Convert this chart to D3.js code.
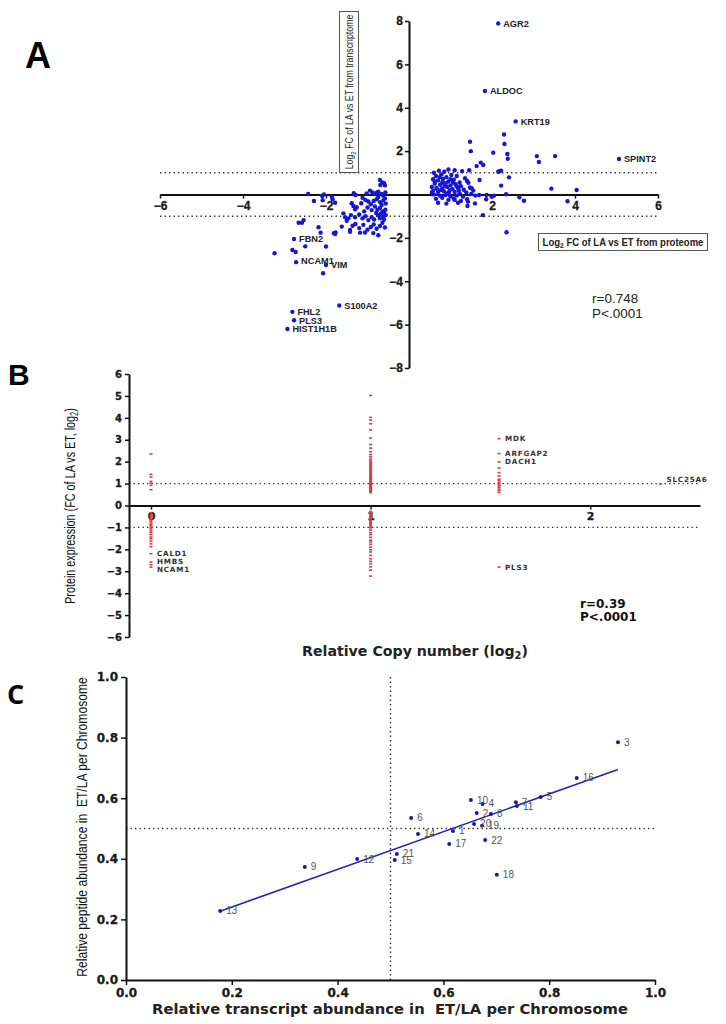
<!DOCTYPE html>
<html>
<head>
<meta charset="utf-8">
<script src="https://cdn.jsdelivr.net/npm/d3@7"></script>
<style>
  body { margin: 0; background: #fff; }
  svg { display: block; }
</style>
</head>
<body>
<div id="chart"></div>
<script>
// ---- panel A : log2 FC proteome (x) vs transcriptome (y) ----
var aPoints = [
  [-0.70,0.67],[-0.64,0.56],[-0.60,0.52],[-0.58,0.42],[-0.69,0.44],
  [-0.94,0.18],[-0.88,0.09],[-1.02,0.05],[-0.84,0.02],[-0.74,0.13],[-0.66,0.03],[-0.62,-0.06],
  [-1.33,0.06],[-1.29,-0.02],[-0.78,0.08],[-0.57,0.10],
  [-1.12,-0.15],[-1.05,-0.25],[-0.98,-0.32],[-1.15,-0.40],[-0.92,-0.45],[-0.85,-0.30],[-0.78,-0.22],
  [-0.70,-0.35],[-0.62,-0.28],[-0.58,-0.18],[-0.66,-0.48],[-0.56,-0.42],[-0.74,-0.12],
  [-1.38,-0.40],[-1.34,-0.53],[-1.30,-0.68],[-1.26,-0.59],
  [-0.82,-0.55],[-0.76,-0.70],[-0.70,-0.62],[-0.64,-0.78],[-0.68,-0.90],[-0.60,-0.85],[-0.57,-0.70],
  [-0.74,-0.96],[-0.62,-1.00],[-0.79,-0.85],[-0.56,-0.95],[-0.90,-0.72],[-1.00,-0.60],[-1.08,-0.78],
  [-1.58,-0.87],[-1.54,-1.05],[-1.50,-1.21],[-1.46,-1.10],[-1.40,-0.95],[-1.30,-1.05],[-1.20,-0.92],
  [-1.12,-1.10],[-1.05,-1.00],[-0.98,-1.18],[-0.90,-1.05],[-0.84,-1.15],[-0.70,-1.10],[-0.60,-1.15],
  [-1.62,-1.48],[-1.42,-1.64],[-1.36,-1.44],[-1.29,-1.36],[-1.20,-1.55],[-1.10,-1.40],[-1.00,-1.62],
  [-0.92,-1.50],[-0.85,-1.38],[-0.78,-1.58],[-0.70,-1.45],[-0.64,-1.30],[-0.58,-1.52],
  [-1.81,-1.79],[-1.77,-1.75],[-1.42,-1.72],[-1.18,-1.76],[-1.06,-1.75],[-0.86,-1.78],[-0.74,-1.88],
  [-2.43,0.02],[-2.29,-0.30],[-2.09,-0.07],[-2.05,0.00],[-2.08,-0.26],[-1.86,-0.10],[-1.84,-0.22],
  [-1.78,-0.38],[-2.54,-1.18],[-2.58,-1.30],[-2.66,-1.30],[-2.18,-1.51],[-2.13,-1.76],[-1.78,-1.82],
  [-2.50,-2.39],[-2.00,-2.40],[-3.24,-2.71],[-2.81,-2.56],[-2.73,-2.65],[-2.07,-3.63],
  // right cluster
  [0.60,1.00],[0.72,1.10],[0.85,1.05],[0.95,1.15],[1.10,1.12],[1.28,1.08],[1.45,1.12],[0.65,0.85],
  [0.78,0.92],[0.90,0.80],[1.02,0.90],[1.15,0.85],[1.35,0.75],[0.58,0.70],[0.70,0.65],[0.82,0.72],
  [0.95,0.60],[1.08,0.68],[1.22,0.55],[1.40,0.62],[0.62,0.50],[0.75,0.45],[0.88,0.52],[1.00,0.42],
  [1.12,0.48],[1.25,0.38],[0.55,0.35],[0.66,0.30],[0.80,0.28],[0.92,0.35],[1.05,0.25],[1.18,0.30],
  [1.32,0.22],[0.58,0.18],[0.70,0.12],[0.84,0.15],[0.96,0.08],[1.10,0.12],[1.22,0.05],[1.38,0.10],
  [1.50,0.02],[0.60,0.00],[0.74,-0.05],[0.88,-0.02],[1.00,-0.08],[1.15,-0.05],[1.30,-0.10],[0.65,-0.20],
  [0.80,-0.15],[0.95,-0.25],[1.08,-0.18],[1.25,-0.30],[1.40,-0.22],[0.70,-0.38],[0.90,-0.42],[1.10,-0.25],
  [1.18,-0.38],[1.42,-0.33],[1.59,-0.41],[0.62,0.60],[0.76,0.20],[0.86,0.40],[0.98,0.20],[1.06,0.55],
  [1.20,0.18],[0.68,0.25],[0.55,0.08],[1.00,0.70],[0.80,0.55],[0.92,0.05],[1.15,0.38],[0.74,0.80],
  [1.48,0.30],[1.51,0.29],[1.60,-0.05],[1.99,-0.10],[2.15,1.05],
  [1.47,2.43],[1.49,2.00],[1.63,1.31],[1.73,1.47],[1.79,1.36],[2.03,1.93],[2.29,2.77],[2.30,2.33],
  [2.37,1.87],[2.38,1.65],[3.08,1.77],[3.13,1.50],[3.52,1.77],[2.18,1.07],[2.22,1.10],[2.41,0.79],
  [1.70,0.67],[2.22,0.41],[2.34,0.01],[1.86,-0.22],[1.87,-0.02],[2.05,-0.05],[2.66,-0.13],[2.77,-0.29],
  [3.43,0.27],[3.82,-0.31],[4.04,0.21],[1.78,-0.95],[2.35,-1.74],[1.43,0.54],[1.47,0.33],[1.55,0.18],
  [1.41,-0.53],[1.69,-0.02]
];
var aGenes = ["AGR2","ALDOC","KRT19","SPINT2","FBN2","NCAM1","VIM","S100A2","FHL2","PLS3","HIST1H1B"];
var aGeneX = [2.15, 1.83, 2.57, 5.06, -2.77, -2.72, -2.00, -1.68, -2.81, -2.77, -2.93];
var aGeneY = [7.89, 4.77, 3.37, 1.64, -2.05, -3.12, -3.25, -5.12, -5.41, -5.80, -6.20];
var aTicksX = [-6,-4,-2,2,4,6];
var aTicksY = [8,6,4,2,-2,-4,-6,-8];
var aCut = [1,-1];

// ---- panel B : copy number vs protein expression ----
var bCopy = [0, 1, 1.585, 2.32];
var bZero = [2.35,1.42,1.30,1.10,1.02,0.92,0.72,-0.33,-0.42,-0.50,-0.58,-0.66,-0.72,-0.80,-0.87,
  -0.93,-1.00,-1.07,-1.16,-1.24,-1.33,-1.44,-1.52,-1.63,-1.75,-1.88,-2.70];
var bOne = [5.02,4.02,3.90,3.73,3.45,3.08,2.78,2.62,2.45,2.32,2.22,2.12,2.04,1.97,1.90,1.84,1.78,
  1.72,1.66,1.61,1.55,1.49,1.44,1.39,1.34,1.29,1.24,1.19,1.14,1.09,1.05,1.00,0.96,0.91,0.86,0.82,
  0.77,0.72,0.68,0.63,0.59,
  -0.27,-0.33,-0.38,-0.44,-0.49,-0.55,-0.60,-0.66,-0.71,-0.77,-0.83,-0.88,-0.94,-1.02,-1.12,-1.24,
  -1.33,-1.45,-1.58,-1.66,-1.77,-1.90,-2.02,-2.12,-2.28,-2.43,-2.55,-2.66,-2.80,-2.95,-3.22];
var bThree = [1.71,1.50,1.35,1.20,1.13,1.05,0.98,0.90,0.83,0.75,0.68,0.60];
var bGenes = ["CALD1","HMBS","NCAM1","MDK","ARFGAP2","DACH1","PLS3","SLC25A6"];
var bGeneX = [0, 0, 0, 1.585, 1.585, 1.585, 1.585, 2.32];
var bGeneY = [-2.20, -2.58, -2.81, 3.05, 2.37, 1.99, -2.81, 0.98];
var bTicksX = [0,1,2];
var bTicksY = [6,5,4,3,2,1,0,-1,-2,-3,-4,-5,-6];
var bCut = [1,-1];

// ---- panel C : per chromosome abundance ----
var cChrom = ["1","2","3","4","5","6","7","8","9","10","11","12","13","14","15","16","17","18","19","20","21","22"];
var cTranscript = [0.618,0.663,0.930,0.674,0.784,0.539,0.737,0.690,0.338,0.652,0.739,0.437,0.178,0.552,0.508,0.852,0.611,0.701,0.673,0.658,0.512,0.679];
var cPeptide = [0.492,0.551,0.785,0.581,0.604,0.535,0.587,0.548,0.373,0.594,0.574,0.399,0.228,0.482,0.396,0.667,0.449,0.347,0.509,0.515,0.416,0.462];
var cTicks = [0,0.2,0.4,0.6,0.8,1.0];
var cCut = 0.5;

var svg = d3.select('#chart').append('svg').attr('width', 726).attr('height', 1024);

var ARIAL = "'Liberation Sans', Arial, sans-serif";
var DEJA = "'DejaVu Sans', Verdana, sans-serif";

function styleAxis(g, font, size, domW) {
  g.attr('font-family', null).attr('font-size', null);
  g.select('.domain').attr('stroke', '#111').attr('stroke-width', domW);
  g.selectAll('.tick line').attr('stroke', '#111').attr('stroke-width', 1.5);
  g.selectAll('.tick text')
    .style('fill', '#1a1a1a').style('font-family', font)
    .style('font-size', size + 'px').style('font-weight', 'bold')
    .style('stroke', '#1a1a1a').style('stroke-width', '0.3px');
}
// squeeze a text horizontally (in its own frame) to a wanted length
function squeeze(t, w, cx, cy, rot) {
  var l = t.node().getComputedTextLength();
  t.attr('transform', 'translate(' + cx + ',' + cy + ') rotate(' + rot + ') scale(' + (w / l) + ',1)');
}
function fitFont(t, w) {
  var l = t.node().getComputedTextLength();
  t.attr('font-size', parseFloat(t.attr('font-size')) * w / l);
}
function dotted(sel, data, x1, x2, y1, y2) {
  sel.selectAll(null).data(data).enter().append('line')
    .attr('x1', x1).attr('x2', x2).attr('y1', y1).attr('y2', y2)
    .attr('stroke', '#333').attr('stroke-width', 1.4).attr('stroke-dasharray', '1.4,3.1');
}

// ================= A =================
var ax = d3.scaleLinear().domain([-6, 6]).range([160, 658]);
var ay = d3.scaleLinear().domain([-8, 8]).range([368, 21]);
var gA = svg.append('g');

dotted(gA, aCut, ax(-6), ax(6), function (d) { return ay(d); }, function (d) { return ay(d); });

var gAx = gA.append('g').attr('transform', 'translate(0,' + ay(0) + ')')
  .call(d3.axisBottom(ax).tickValues(aTicksX).tickFormat(d3.format('d')).tickSize(4).tickSizeOuter(0).tickPadding(3));
styleAxis(gAx, ARIAL, 12, 2);
var gAy = gA.append('g').attr('transform', 'translate(' + ax(0) + ',0)')
  .call(d3.axisLeft(ay).tickValues(aTicksY).tickFormat(d3.format('d')).tickSize(4).tickSizeOuter(0).tickPadding(2));
styleAxis(gAy, ARIAL, 12, 2);

gA.selectAll('circle.pt').data(aPoints).enter().append('circle')
  .attr('class', 'pt')
  .attr('cx', function (d) { return ax(d[0]); })
  .attr('cy', function (d) { return ay(d[1]); })
  .attr('r', 2.2).attr('fill', '#1616d4');

gA.selectAll('circle.gene').data(aGenes).enter().append('circle')
  .attr('class', 'gene')
  .attr('cx', function (d, i) { return ax(aGeneX[i]); })
  .attr('cy', function (d, i) { return ay(aGeneY[i]); })
  .attr('r', 2.2).attr('fill', '#1616d4');
gA.selectAll('text.gene').data(aGenes).enter().append('text')
  .attr('class', 'gene')
  .attr('x', function (d, i) { return ax(aGeneX[i]) + 5; })
  .attr('y', function (d, i) { return ay(aGeneY[i]) + (d === 'NCAM1' ? -1 : 0); })
  .attr('dy', '0.35em')
  .attr('font-family', ARIAL).attr('font-size', 9.2).attr('font-weight', 'bold').attr('fill', '#222')
  .text(function (d) { return d; });

// axis title boxes
gA.append('rect').attr('x', 339.5).attr('y', 11.5).attr('width', 19).attr('height', 161)
  .attr('fill', '#fff').attr('stroke', '#555').attr('stroke-width', 1);
var tA1 = gA.append('text').attr('text-anchor', 'middle').attr('dy', '0.35em')
  .attr('font-family', ARIAL).attr('font-size', 10.5).attr('fill', '#222');
tA1.append('tspan').text('Log');
tA1.append('tspan').attr('font-size', '0.7em').attr('dy', 3).text('2');
tA1.append('tspan').attr('dy', -3).text(' FC of LA vs ET from transcriptome');
squeeze(tA1, 155, 349, 92, -90);

gA.append('rect').attr('x', 538.5).attr('y', 233.5).attr('width', 169).attr('height', 17)
  .attr('fill', '#fff').attr('stroke', '#555').attr('stroke-width', 1);
var tA2 = gA.append('text').attr('text-anchor', 'middle').attr('dy', '0.35em')
  .attr('font-family', ARIAL).attr('font-size', 10).attr('font-weight', 'bold').attr('fill', '#222');
tA2.append('tspan').text('Log');
tA2.append('tspan').attr('font-size', '0.7em').attr('dy', 3).text('2');
tA2.append('tspan').attr('dy', -3).text(' FC of LA vs ET from proteome');
squeeze(tA2, 161, 623, 242, 0);

gA.append('text').attr('x', 592).attr('y', 303).attr('font-family', ARIAL).attr('font-size', 13.5)
  .attr('fill', '#222').text('r=0.748');
gA.append('text').attr('x', 592).attr('y', 318).attr('font-family', ARIAL).attr('font-size', 13.5)
  .attr('fill', '#222').text('P<.0001');

svg.append('text').attr('x', 25).attr('y', 68).attr('font-family', ARIAL).attr('font-size', 36)
  .attr('font-weight', 'bold').attr('fill', '#000').text('A');

// ================= B =================
var bx = d3.scaleLinear().domain([-0.1, 2.5]).range([129, 700]);
var by = d3.scaleLinear().domain([-6, 6]).range([637, 374]);
var gB = svg.append('g');

dotted(gB, bCut, bx(-0.1), bx(2.5), function (d) { return by(d); }, function (d) { return by(d); });

var gBx = gB.append('g').attr('transform', 'translate(0,' + by(0) + ')')
  .call(d3.axisBottom(bx).tickValues(bTicksX).tickFormat(d3.format('d')).tickSize(4).tickSizeOuter(0).tickPadding(3));
styleAxis(gBx, DEJA, 11, 1.8);
var gBy = gB.append('g').attr('transform', 'translate(' + bx(-0.1) + ',0)')
  .call(d3.axisLeft(by).tickValues(bTicksY).tickFormat(d3.format('d')).tickSize(4).tickSizeOuter(0).tickPadding(3));
styleAxis(gBy, DEJA, 10, 2);

var bGroups = [bZero, bOne, bThree];
bGroups.forEach(function (vals, gi) {
  gB.selectAll(null).data(vals).enter().append('rect')
    .attr('x', bx(bCopy[gi]) - 1.5)
    .attr('y', function (d) { return by(d) - 0.8; })
    .attr('width', 3).attr('height', 1.6).attr('fill', '#e03a3a');
});
gB.selectAll('rect.gene').data(bGenes).enter().append('rect')
  .attr('class', 'gene')
  .attr('x', function (d, i) { return bx(bGeneX[i]) - 1.5; })
  .attr('y', function (d, i) { return by(bGeneY[i]) - 0.8; })
  .attr('width', 3).attr('height', 1.6).attr('fill', '#e03a3a');
gB.selectAll('text.gene').data(bGenes).enter().append('text')
  .attr('class', 'gene')
  .attr('x', function (d, i) { return bx(bGeneX[i]) + 6; })
  .attr('y', function (d, i) {
    return by(bGeneY[i]) + (d === 'SLC25A6' ? -5 : d === 'NCAM1' ? 2 : d === 'HMBS' ? -0.5 : 0);
  })
  .attr('dy', '0.35em')
  .attr('font-family', DEJA).attr('font-size', 7.2).attr('font-weight', 'bold')
  .attr('letter-spacing', 0.8).attr('fill', '#333')
  .text(function (d) { return d; });

var tB1 = gB.append('text').attr('text-anchor', 'middle').attr('dy', '0.35em')
  .attr('font-family', ARIAL).attr('font-size', 14.5).attr('fill', '#111');
tB1.append('tspan').text('Protein expression (FC of LA vs ET, log');
tB1.append('tspan').attr('font-size', '0.7em').attr('dy', 3).text('2');
tB1.append('tspan').attr('dy', -3).text(')');
squeeze(tB1, 196, 70, 506, -90);

var tB2 = gB.append('text').attr('text-anchor', 'middle').attr('x', 415).attr('y', 656)
  .attr('font-family', DEJA).attr('font-size', 12).attr('font-weight', 'bold').attr('fill', '#222');
tB2.append('tspan').text('Relative Copy number (log');
tB2.append('tspan').attr('font-size', '0.7em').attr('dy', 3).text('2');
tB2.append('tspan').attr('dy', -3).text(')');
fitFont(tB2, 226);

gB.append('text').attr('x', 580).attr('y', 608).attr('font-family', DEJA).attr('font-size', 12)
  .attr('font-weight', 'bold').attr('fill', '#111').text('r=0.39');
gB.append('text').attr('x', 580).attr('y', 621).attr('font-family', DEJA).attr('font-size', 12)
  .attr('font-weight', 'bold').attr('fill', '#111').text('P<.0001');

svg.append('text').attr('x', 8).attr('y', 385).attr('font-family', ARIAL).attr('font-size', 30)
  .attr('font-weight', 'bold').attr('fill', '#000').text('B');

// ================= C =================
var cx = d3.scaleLinear().domain([0, 1]).range([126, 655]);
var cy = d3.scaleLinear().domain([0, 1]).range([980, 677]);
var gC = svg.append('g');

dotted(gC, [cCut], cx(0), cx(1), function (d) { return cy(d); }, function (d) { return cy(d); });
dotted(gC, [cCut], function (d) { return cx(d); }, function (d) { return cx(d); }, cy(0), cy(1));

var gCx = gC.append('g').attr('transform', 'translate(0,' + cy(0) + ')')
  .call(d3.axisBottom(cx).tickValues(cTicks).tickFormat(d3.format('.1f')).tickSize(5).tickSizeOuter(0).tickPadding(3));
styleAxis(gCx, DEJA, 12, 2);
var gCy = gC.append('g').attr('transform', 'translate(' + cx(0) + ',0)')
  .call(d3.axisLeft(cy).tickValues(cTicks).tickFormat(d3.format('.1f')).tickSize(5).tickSizeOuter(0).tickPadding(3));
styleAxis(gCy, DEJA, 12, 2);

// linear fit from the chromosome values
var mx = d3.mean(cTranscript), my = d3.mean(cPeptide);
var sxy = d3.sum(cTranscript, function (x, i) { return (x - mx) * (cPeptide[i] - my); });
var sxx = d3.sum(cTranscript, function (x) { return (x - mx) * (x - mx); });
var slope = sxy / sxx, icpt = my - slope * mx;
var xr = d3.extent(cTranscript);
gC.append('path')
  .datum(xr)
  .attr('d', d3.line().x(function (d) { return cx(d); }).y(function (d) { return cy(icpt + slope * d); }))
  .attr('stroke', '#2424b0').attr('stroke-width', 1.6).attr('fill', 'none');

gC.selectAll('circle.chr').data(cChrom).enter().append('circle')
  .attr('class', 'chr')
  .attr('cx', function (d, i) { return cx(cTranscript[i]); })
  .attr('cy', function (d, i) { return cy(cPeptide[i]); })
  .attr('r', 2).attr('fill', '#1a1a9e');
gC.selectAll('text.chr').data(cChrom).enter().append('text')
  .attr('class', 'chr')
  .attr('x', function (d, i) { return cx(cTranscript[i]) + 6; })
  .attr('y', function (d, i) { return cy(cPeptide[i]); })
  .attr('dy', '0.35em')
  .attr('font-family', ARIAL).attr('font-size', 10).attr('fill', '#555')
  .text(function (d) { return d; });

var tC1 = gC.append('text').attr('text-anchor', 'middle').attr('dy', '0.35em')
  .attr('font-family', ARIAL).attr('font-size', 14).attr('fill', '#111')
  .attr('xml:space', 'preserve')
  .text('Relative peptide abundance in  ET/LA per Chromosome');
squeeze(tC1, 300, 82, 827, -90);

var tC2 = gC.append('text').attr('text-anchor', 'middle').attr('x', 390).attr('y', 1014)
  .attr('font-family', DEJA).attr('font-size', 13).attr('font-weight', 'bold').attr('fill', '#222')
  .attr('xml:space', 'preserve')
  .text('Relative transcript abundance in  ET/LA per Chromosome');
fitFont(tC2, 476);

svg.append('text').attr('x', 7).attr('y', 704).attr('font-family', "'Open Sans', 'Noto Sans', sans-serif")
  .attr('font-size', 27).attr('font-weight', 'bold').attr('fill', '#000').text('C');
</script>
</body>
</html>
